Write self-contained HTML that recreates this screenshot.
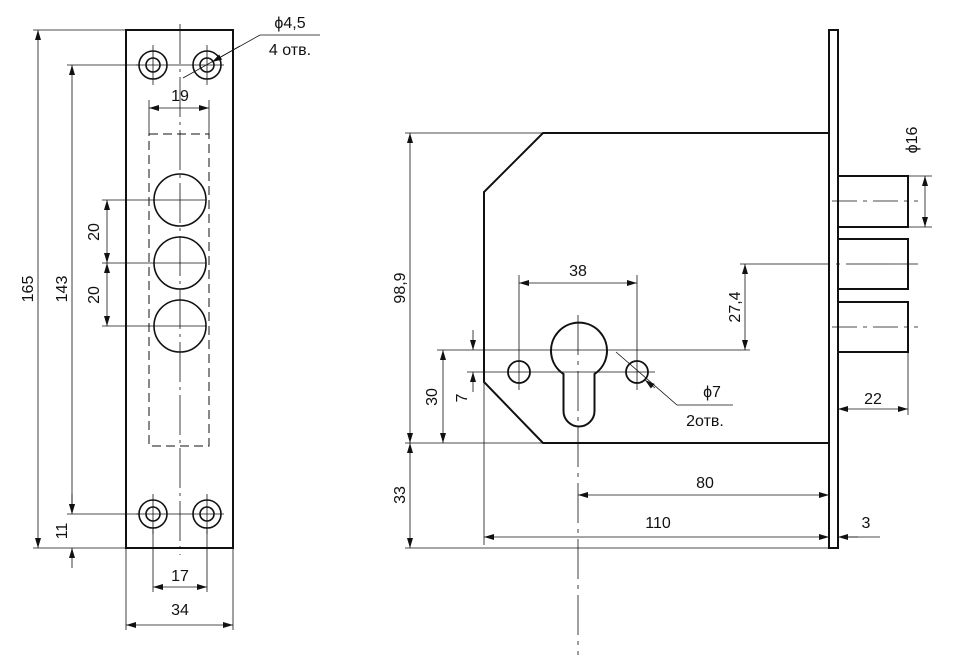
<!DOCTYPE html>
<html><head><meta charset="utf-8"><style>
html,body{margin:0;padding:0;background:#fff}
text{font-family:"Liberation Sans",sans-serif;font-size:16px;fill:#111}
</style></head><body>
<svg width="962" height="657" viewBox="0 0 962 657" xmlns="http://www.w3.org/2000/svg">
<defs>
<marker id="a" viewBox="0 0 10 6" refX="10" refY="3" markerWidth="10" markerHeight="6" orient="auto-start-reverse" markerUnits="userSpaceOnUse"><path d="M0,0L10,3L0,6z" fill="#111"/></marker>
</defs>
<g stroke="#111" fill="none">
<rect x="126" y="30" width="107" height="518" stroke-width="2"/>
<rect x="149" y="134" width="60" height="312" stroke-width="1" stroke-dasharray="9,5"/>
<line x1="180" y1="24" x2="180" y2="555" stroke-width="0.8" stroke-dasharray="40,5,3,5"/>
<g stroke-width="1.6">
<circle cx="153" cy="65" r="14"/><circle cx="153" cy="65" r="7"/>
<circle cx="207" cy="65" r="14"/><circle cx="207" cy="65" r="7"/>
<circle cx="153" cy="514" r="14"/><circle cx="153" cy="514" r="7"/>
<circle cx="207" cy="514" r="14"/><circle cx="207" cy="514" r="7"/>
<circle cx="180" cy="200" r="26"/><circle cx="180" cy="263" r="26"/><circle cx="180" cy="326" r="26"/>
</g>
<g stroke-width="0.8">
<line x1="136" y1="65" x2="224" y2="65"/><line x1="153" y1="45" x2="153" y2="85"/><line x1="207" y1="45" x2="207" y2="85"/>
<line x1="136" y1="514" x2="224" y2="514"/><line x1="153" y1="494" x2="153" y2="534"/><line x1="207" y1="494" x2="207" y2="534"/>
<line x1="33" y1="30" x2="126" y2="30"/><line x1="33" y1="548" x2="126" y2="548"/>
<line x1="67" y1="65" x2="140" y2="65"/><line x1="67" y1="514" x2="140" y2="514"/>
<line x1="102" y1="200" x2="206" y2="200"/><line x1="102" y1="263" x2="206" y2="263"/><line x1="102" y1="326" x2="206" y2="326"/>
<line x1="149" y1="100" x2="149" y2="134"/><line x1="209" y1="100" x2="209" y2="134"/>
<line x1="153" y1="528" x2="153" y2="592"/><line x1="207" y1="528" x2="207" y2="592"/>
<line x1="126" y1="548" x2="126" y2="630"/><line x1="233" y1="548" x2="233" y2="630"/>
<line x1="38" y1="30" x2="38" y2="548" marker-start="url(#a)" marker-end="url(#a)"/>
<line x1="72" y1="65" x2="72" y2="514" marker-start="url(#a)" marker-end="url(#a)"/>
<line x1="72" y1="494" x2="72" y2="514" marker-end="url(#a)"/><line x1="72" y1="568" x2="72" y2="548" marker-end="url(#a)"/>
<line x1="107" y1="200" x2="107" y2="263" marker-start="url(#a)" marker-end="url(#a)"/>
<line x1="107" y1="263" x2="107" y2="326" marker-start="url(#a)" marker-end="url(#a)"/>
<line x1="149" y1="108" x2="209" y2="108" marker-start="url(#a)" marker-end="url(#a)"/>
<line x1="153" y1="587" x2="207" y2="587" marker-start="url(#a)" marker-end="url(#a)"/>
<line x1="126" y1="625" x2="233" y2="625" marker-start="url(#a)" marker-end="url(#a)"/>
<polyline points="320,35 260,35 183,78"/>
<line x1="240" y1="46" x2="212" y2="62" marker-end="url(#a)"/>
</g>
<path d="M543,133 L829,133 L829,443 L543,443 L484,382 L484,192 Z" stroke-width="2"/>
<rect x="829" y="30" width="9" height="518" stroke-width="2"/>
<rect x="838" y="176" width="70" height="51" stroke-width="2"/>
<rect x="838" y="239" width="70" height="50" stroke-width="2"/>
<rect x="838" y="302" width="70" height="50" stroke-width="2"/>
<path d="M563.5,374 A28,28 0 1 1 594.5,374 L594.5,411 A15.5,15.5 0 0 1 563.5,411 Z" stroke-width="2"/>
<circle cx="519" cy="372" r="11" stroke-width="1.8"/><circle cx="637" cy="372" r="11" stroke-width="1.8"/>
<g stroke-width="0.8">
<line x1="578" y1="315" x2="578" y2="655" stroke-dasharray="40,6,4,6"/>
<line x1="832" y1="201" x2="918" y2="201" stroke-dasharray="25,6,4,6"/>
<line x1="832" y1="327" x2="918" y2="327" stroke-dasharray="25,6,4,6"/>
<line x1="740" y1="264" x2="918" y2="264" stroke-dasharray="90,6,4,6"/>
<line x1="467" y1="372" x2="655" y2="372"/>
<line x1="519" y1="275" x2="519" y2="390"/><line x1="637" y1="275" x2="637" y2="390"/>
<line x1="437" y1="350" x2="750" y2="350"/>
<line x1="405" y1="133" x2="543" y2="133"/><line x1="405" y1="443" x2="543" y2="443"/>
<line x1="405" y1="548" x2="829" y2="548"/>
<line x1="484" y1="382" x2="484" y2="545"/>
<line x1="908" y1="352" x2="908" y2="415"/>
<line x1="908" y1="176" x2="932" y2="176"/><line x1="908" y1="227" x2="932" y2="227"/>
<line x1="838" y1="537" x2="880" y2="537"/>
<line x1="519" y1="283" x2="637" y2="283" marker-start="url(#a)" marker-end="url(#a)"/>
<line x1="745" y1="264" x2="745" y2="350" marker-start="url(#a)" marker-end="url(#a)"/>
<line x1="410" y1="133" x2="410" y2="443" marker-start="url(#a)" marker-end="url(#a)"/>
<line x1="410" y1="443" x2="410" y2="548" marker-start="url(#a)" marker-end="url(#a)"/>
<line x1="443" y1="350" x2="443" y2="443" marker-start="url(#a)" marker-end="url(#a)"/>
<line x1="473" y1="330" x2="473" y2="350" marker-end="url(#a)"/><line x1="473" y1="392" x2="473" y2="372" marker-end="url(#a)"/>
<line x1="578" y1="495" x2="829" y2="495" marker-start="url(#a)" marker-end="url(#a)"/>
<line x1="484" y1="537" x2="829" y2="537" marker-start="url(#a)" marker-end="url(#a)"/>
<line x1="858" y1="537" x2="838" y2="537" marker-end="url(#a)"/>
<line x1="838" y1="409" x2="908" y2="409" marker-start="url(#a)" marker-end="url(#a)"/>
<line x1="925" y1="176" x2="925" y2="227" marker-start="url(#a)" marker-end="url(#a)"/>
<polyline points="733,405 677,405 616,352"/>
<line x1="655" y1="388" x2="645" y2="380" marker-end="url(#a)"/>
</g>
</g>
<text x="180" y="101" text-anchor="middle">19</text>
<text x="180" y="581" text-anchor="middle">17</text>
<text x="180" y="615" text-anchor="middle">34</text>
<text x="290" y="28" text-anchor="middle">ϕ4,5</text>
<text x="290" y="55" text-anchor="middle">4 отв.</text>
<text transform="translate(33,289) rotate(-90)" text-anchor="middle">165</text>
<text transform="translate(67,289) rotate(-90)" text-anchor="middle">143</text>
<text transform="translate(99,232) rotate(-90)" text-anchor="middle">20</text>
<text transform="translate(99,295) rotate(-90)" text-anchor="middle">20</text>
<text transform="translate(67,531) rotate(-90)" text-anchor="middle">11</text>
<text x="578" y="276" text-anchor="middle">38</text>
<text transform="translate(740,307) rotate(-90)" text-anchor="middle">27,4</text>
<text transform="translate(405,288) rotate(-90)" text-anchor="middle">98,9</text>
<text transform="translate(405,495) rotate(-90)" text-anchor="middle">33</text>
<text transform="translate(437,397) rotate(-90)" text-anchor="middle">30</text>
<text transform="translate(467,398) rotate(-90)" text-anchor="middle">7</text>
<text x="705" y="488" text-anchor="middle">80</text>
<text x="658" y="528" text-anchor="middle">110</text>
<text x="866" y="528" text-anchor="middle">3</text>
<text x="873" y="404" text-anchor="middle">22</text>
<text x="712" y="397" text-anchor="middle">ϕ7</text>
<text x="705" y="426" text-anchor="middle">2отв.</text>
<text transform="translate(917,140) rotate(-90)" text-anchor="middle">ϕ16</text>
</svg>
</body></html>
